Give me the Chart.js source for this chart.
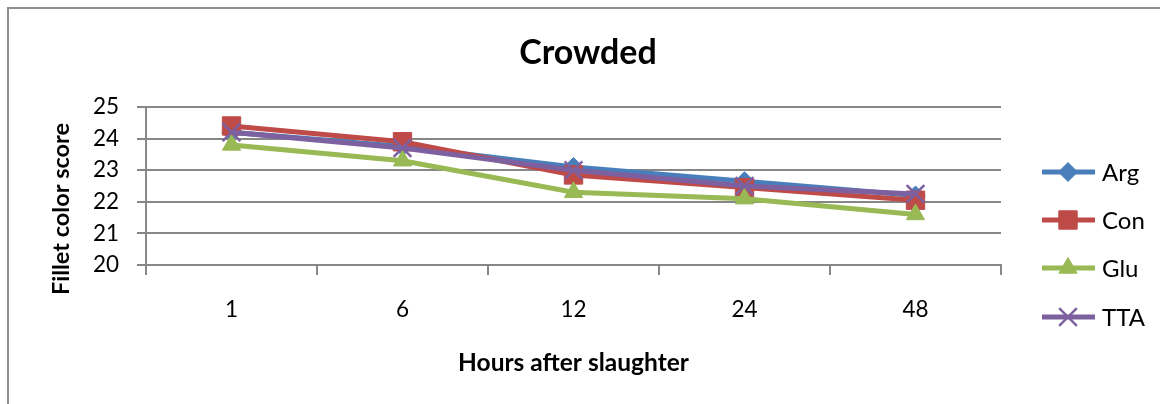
<!DOCTYPE html>
<html>
<head>
<meta charset="utf-8">
<script src="https://cdn.jsdelivr.net/npm/chart.js@4/dist/chart.umd.min.js"></script>
<style>
  html, body { margin: 0; padding: 0; background: #fff; }
  #wrap { width: 1160px; height: 404px; position: relative; }
</style>
</head>
<body>
<div id="wrap"><canvas id="c" width="1160" height="404"></canvas></div>
<script>
// ---- data ----
const chartTitle = 'Crowded';
const xTitle = 'Hours after slaughter';
const yTitle = 'Fillet color score';
const categories = ['1', '6', '12', '24', '48'];
const seriesNames = ['Arg', 'Con', 'Glu', 'TTA'];
const argValues = [24.2, 23.75, 23.1, 22.65, 22.2];
const conValues = [24.4, 23.9, 22.85, 22.45, 22.05];
const gluValues = [23.8, 23.3, 22.3, 22.1, 21.6];
const ttaValues = [24.2, 23.7, 23.0, 22.5, 22.25];
const yMin = 20, yMax = 25, yStep = 1;

// ---- styles ----
const colors = ['#4A7EBB', '#BE4B48', '#98B954', '#7D60A0'];
const markers = [
  { style: 'rectRot', radius: 9.5, bw: 1 },
  { style: 'rect', radius: 13, bw: 1 },
  { style: 'triangle', radius: 10.5, bw: 1 },
  { style: 'crossRot', radius: 12.5, bw: 2.5 }
];
const gridColor = '#878787';
const FONT = 'Lato, "Open Sans", sans-serif';

const allValues = [argValues, conValues, gluValues, ttaValues];
const datasets = seriesNames.map((name, i) => ({
  label: name,
  data: allValues[i],
  borderColor: colors[i],
  backgroundColor: colors[i],
  borderWidth: 5,
  pointStyle: markers[i].style,
  pointRadius: markers[i].radius,
  pointHoverRadius: markers[i].radius,
  pointBorderWidth: markers[i].bw,
  pointBackgroundColor: colors[i],
  pointBorderColor: colors[i],
  tension: 0,
  order: seriesNames.length - i
}));

const decorPlugin = {
  id: 'decor',
  beforeDraw(chart) {
    const ctx = chart.ctx;
    ctx.save();
    ctx.fillStyle = '#fff';
    ctx.fillRect(0, 0, chart.width, chart.height);
    ctx.strokeStyle = '#8e8e8e';
    ctx.lineWidth = 2;
    ctx.strokeRect(8, 8, 1300, 600);
    ctx.restore();
  },
  afterDraw(chart) {
    const ctx = chart.ctx;
    ctx.save();
    // title
    ctx.fillStyle = '#000';
    ctx.font = 'bold 34px ' + FONT;
    ctx.textAlign = 'center';
    ctx.textBaseline = 'middle';
    ctx.fillText(chartTitle, 588, 53);
    // y axis title
    ctx.save();
    ctx.translate(61, 209);
    ctx.rotate(-Math.PI / 2);
    ctx.font = 'bold 23.5px ' + FONT;
    ctx.fillText(yTitle, 0, 0);
    ctx.restore();
    // legend
    const ys = [172, 220, 268, 317];
    chart.data.datasets.forEach((ds, i) => {
      const y = ys[i];
      ctx.strokeStyle = ds.borderColor;
      ctx.lineWidth = 5;
      ctx.beginPath();
      ctx.moveTo(1042, y);
      ctx.lineTo(1095, y);
      ctx.stroke();
      ctx.fillStyle = ds.pointBackgroundColor;
      ctx.strokeStyle = ds.pointBorderColor;
      ctx.lineWidth = ds.pointBorderWidth;
      Chart.helpers.drawPoint(ctx, { pointStyle: ds.pointStyle, radius: ds.pointRadius, rotation: 0, borderWidth: ds.pointBorderWidth }, 1068, y);
      ctx.fillStyle = '#000';
      ctx.font = '24px ' + FONT;
      ctx.textAlign = 'left';
      ctx.textBaseline = 'middle';
      ctx.fillText(ds.label, 1102, y + 1);
    });
    ctx.restore();
  }
};

new Chart(document.getElementById('c'), {
  type: 'line',
  data: { labels: categories, datasets },
  plugins: [decorPlugin],
  options: {
    responsive: false,
    animation: false,
    layout: { padding: { top: 107, left: 0, right: 159, bottom: 0 } },
    plugins: { legend: { display: false }, title: { display: false }, tooltip: { enabled: false } },
    scales: {
      x: {
        type: 'category',
        offset: true,
        grid: { offset: true, drawOnChartArea: false, drawTicks: true, tickLength: 10, color: gridColor, lineWidth: 2 },
        border: { display: true, color: gridColor, width: 2 },
        ticks: { color: '#000', font: { family: FONT, size: 22.5 }, padding: 21, maxRotation: 0 },
        title: { display: true, text: xTitle, color: '#000', font: { family: FONT, size: 24.5, weight: 'bold' }, padding: { top: 0, bottom: 26 } },
        afterFit(s) { s.height = 139; }
      },
      y: {
        min: yMin, max: yMax,
        grid: { color: gridColor, lineWidth: 2, tickLength: 9, drawTicks: true },
        border: { display: true, color: gridColor, width: 2 },
        ticks: { stepSize: yStep, color: '#000', font: { family: FONT, size: 22.5 }, padding: 18 },
        afterFit(s) { s.width = 146; }
      }
    }
  }
});
</script>
</body>
</html>
